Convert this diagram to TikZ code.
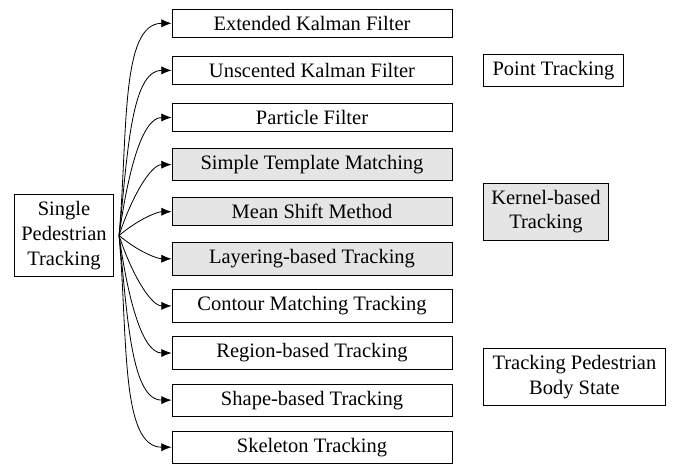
\documentclass[tikz,border=0pt]{standalone}
\usepackage{fontspec}
\setmainfont{Liberation Serif}
\usetikzlibrary{positioning,arrows.meta}

\tikzset{
  methodbox/.style={draw, minimum width=136.6pt},
  catbox/.style={draw, align=center, anchor=west},
  fanarrow/.style={-{Latex[length=5pt,width=4pt]}, in=180, in looseness=0.6, out looseness=1.2},
}

\begin{document}
\begin{tikzpicture}[x=0.4878pt, y=-0.4878pt]
\useasboundingbox (0,0) rectangle (673,464);

% root node
\node[draw, align=center] (single) at (64,235.5) {Single\\Pedestrian\\Tracking};
\coordinate (fan) at ([xshift=2.5pt]single.east);

% tracking methods, one row each
\foreach \i/\name/\fc/\ang in {
    1/Extended Kalman Filter/white/85,
    2/Unscented Kalman Filter/white/84,
    3/Particle Filter/white/82,
    4/Simple Template Matching/gray!20/72,
    5/Mean Shift Method/gray!20/40,
    6/Layering-based Tracking/gray!20/-40,
    7/Contour Matching Tracking/white/-72,
    8/Region-based Tracking/white/-82,
    9/Shape-based Tracking/white/-84,
    10/Skeleton Tracking/white/-85
} {
    \node[methodbox, fill=\fc] (m\i) at (312,{23.3+47.1*(\i-1)}) {\name};
    \draw[fanarrow, out=\ang] (fan) to (m\i.west);
}

% categories
\node[catbox, minimum width=68.3pt] (point) at (483,70.5) {Point Tracking};
\node[catbox, minimum width=61pt, fill=gray!20] (kernel) at (483,211.5) {Kernel-based\\Tracking};
\node[catbox, minimum width=88.8pt] (body) at (483,377) {Tracking Pedestrian\\Body State};

\end{tikzpicture}
\end{document}
